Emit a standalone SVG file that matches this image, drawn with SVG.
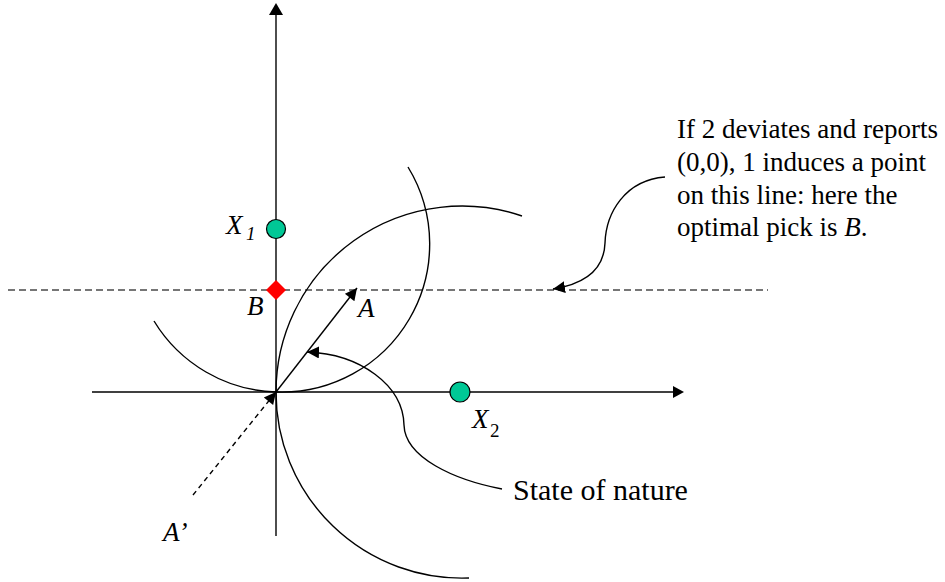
<svg xmlns="http://www.w3.org/2000/svg" width="945" height="582" viewBox="0 0 945 582">
<defs>
<style>
.ax{stroke:#000;stroke-width:1.6;fill:none}
.vax{stroke:#3a3a3a;stroke-width:1.8;fill:none}
.arc{stroke:#000;stroke-width:1.4;fill:none}
.dash{stroke:#4a4a4a;stroke-width:1.7;fill:none;stroke-dasharray:7,4}
.lead{stroke:#000;stroke-width:1.4;fill:none}
.pt{fill:#00C896;stroke:#000;stroke-width:1.2}
.it{font-style:italic}
.f{font-family:"Times New Roman","Liberation Serif","DejaVu Serif",serif}
</style>
<marker id="ah" viewBox="0 0 10 10" refX="10" refY="5" markerWidth="12" markerHeight="12" markerUnits="userSpaceOnUse" orient="auto">
<path d="M0,0 L10,5 L0,10 Z" fill="#000"/>
</marker>
<marker id="ahs" viewBox="0 0 10 10" refX="10" refY="5" markerWidth="14" markerHeight="12" markerUnits="userSpaceOnUse" orient="auto">
<path d="M0,0 L10,5 L0,10 Z" fill="#000"/>
</marker>
</defs>
<rect width="945" height="582" fill="#fff"/>
<g id="connectors">
<line class="vax" x1="276" y1="536" x2="276" y2="15"/>
<path d="M269,15 L283,15 L276,3 Z" fill="#000"/>
<line class="ax" x1="92" y1="392" x2="673" y2="392"/>
<path d="M673,386 L673,398 L684,392 Z" fill="#000"/>
<line class="dash" x1="8" y1="290" x2="768" y2="290"/>
<path class="arc" d="M154,321 A148,148 0 0,0 276,392 A148,148 0 0,0 408,167"/>
<path class="arc" d="M522,216 A186,186 0 0,0 276,392 A186,186 0 0,0 469,578"/>
<line class="lead" x1="276" y1="392" x2="357" y2="288" marker-end="url(#ahs)"/>
<line class="lead" x1="193" y1="495" x2="276" y2="392" stroke-dasharray="5,4" marker-end="url(#ahs)"/>
<path class="lead" d="M502,489 C455,480 405,458 404,425 C403,385 360,354 307,352" marker-end="url(#ah)"/>
<path class="lead" d="M665,177 C625,180 606,213 605,243 C604,270 585,284 553,289" marker-end="url(#ah)"/>
</g>
<g class="f" fill="#000">
<g id="X1">
<circle class="pt" cx="276" cy="229" r="9.5"/>
<text class="it" x="226" y="234" font-size="27">X</text>
<text class="it" x="246" y="240" font-size="19">1</text>
</g>
<g id="B">
<path d="M276,280 L286,290 L276,300 L266,290 Z" fill="#FF0000"/>
<text class="it" x="247" y="315" font-size="27">B</text>
</g>
<g id="A">
<text class="it" x="358" y="317" font-size="27">A</text>
</g>
<g id="Aprime">
<text class="it" x="163" y="541" font-size="27">A’</text>
</g>
<g id="X2">
<circle class="pt" cx="460" cy="392" r="10"/>
<text class="it" x="472" y="428" font-size="27">X</text>
<text x="490" y="437" font-size="19">2</text>
</g>
<g id="state">
<text x="513" y="500" font-size="30">State of nature</text>
</g>
<g id="note">
<text font-size="27">
<tspan x="677" y="138">If 2 deviates and reports</tspan>
<tspan x="677" y="171">(0,0), 1 induces a point</tspan>
<tspan x="677" y="204">on this line: here the</tspan>
<tspan x="677" y="236">optimal pick is <tspan class="it">B</tspan>.</tspan>
</text>
</g>
</g>
</svg>
